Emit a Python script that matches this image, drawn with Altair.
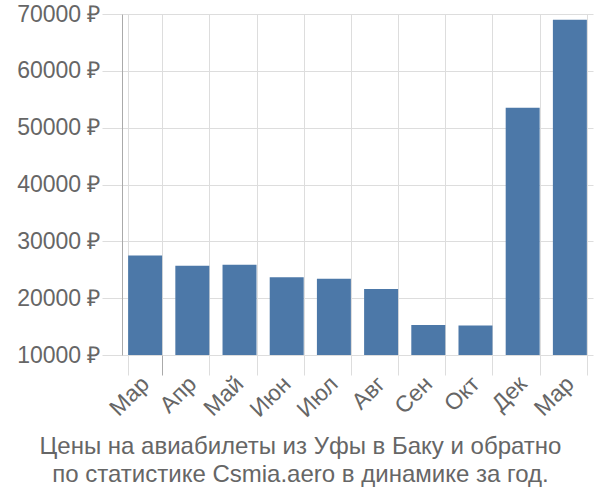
import altair as alt
import pandas as pd

months = ["Мар", "Апр", "Май", "Июн", "Июл", "Авг", "Сен", "Окт", "Дек", "Мар"]
prices = [27500, 25700, 25900, 23700, 23400, 21600, 15300, 15200, 53500, 69000]
y_ticks = [10000, 20000, 30000, 40000, 50000, 60000, 70000]

df = pd.DataFrame({"idx": list(range(len(months))), "price": prices, "base": [10000] * len(months)})

label_array = "[" + ",".join("'" + m + "'" for m in months) + "]"

font = "Liberation Sans"

chart = alt.Chart(df).mark_bar(color="#4c78a8").encode(
    x=alt.X(
        "idx:O",
        scale=alt.Scale(paddingInner=0.28, paddingOuter=0.13),
        axis=alt.Axis(
            title=None,
            labelExpr=label_array + "[datum.value]",
            labelAngle=-45,
            labelAlign="right",
            labelBaseline="middle",
            labelFontSize=23,
            labelColor="#666666",
            labelFont=font,
            labelPadding=5,
            tickBand="extent",
            tickSize=20,
            tickColor=alt.condition("datum.value == 0", alt.value("#aaaaaa"), alt.value("#dddddd")),
            grid=True,
            gridColor="#dddddd",
            domain=False,
        ),
    ),
    y=alt.Y(
        "price:Q",
        scale=alt.Scale(domain=[10000, 70000], zero=False, nice=False),
        axis=alt.Axis(
            title=None,
            values=y_ticks,
            labelExpr="datum.value + ' ₽'",
            labelFontSize=23,
            labelColor="#666666",
            labelFont=font,
            labelPadding=2,
            tickSize=20,
            tickColor="#dddddd",
            gridColor="#dddddd",
            domainColor="#aaaaaa",
        ),
    ),
    y2="base:Q",
).properties(
    width=471,
    height=341,
    padding={"left": 122, "top": 14, "right": 7, "bottom": 145},
    autosize=alt.AutoSizeParams(type="none"),
    title=alt.TitleParams(
        text=["Цены на авиабилеты из Уфы в Баку и обратно", "по статистике Csmia.aero в динамике за год."],
        orient="bottom",
        anchor="middle",
        fontSize=24,
        fontWeight="normal",
        color="#666666",
        font=font,
        lineHeight=28,
        offset=13,
        dx=-57,
    ),
).configure_view(stroke=None)

chart.save("out.html", embed_options={"renderer": "svg", "actions": False})
